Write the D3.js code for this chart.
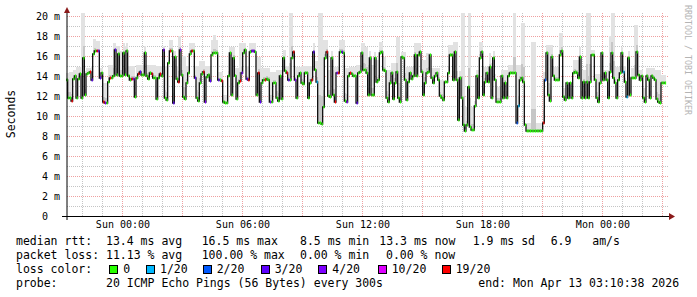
<!DOCTYPE html>
<html>
<head>
<meta charset="utf-8">
<script src="https://cdn.jsdelivr.net/npm/d3@7/dist/d3.min.js"></script>
<style>
body { margin: 0; background: #fff; }
svg text { font-family: "DejaVu Sans Mono", monospace; fill: #000; }
</style>
</head>
<body>
<svg id="chart" width="697" height="297"></svg>
<script>
// probe step and end of graph
const stepSeconds = 300;
const endTime = new Date(2026, 3, 13, 3, 10, 38);

// median rtt per 5 min step (ms)
const medianMs = [
  13.6, 11.8, 11.8, 11.5, 13.7, 14.0, 11.8, 13.7, 14.2, 11.8,
  15.8, 12.1, 14.2, 14.3, 14.4, 13.6, 16.2, 16.5, 16.5, 16.5,
  13.8, 14.3, 11.4, 11.3, 11.3, 13.4, 13.8, 13.8, 14.0, 16.6,
  14.1, 16.2, 14.0, 14.0, 16.3, 14.1, 16.5, 14.0, 13.6, 13.7,
  13.7, 11.9, 13.8, 14.2, 14.4, 14.1, 14.1, 16.3, 14.0, 13.7,
  14.3, 14.2, 13.8, 13.8, 11.7, 13.8, 14.2, 14.0, 16.6, 11.8,
  11.6, 15.3, 16.5, 16.5, 11.3, 15.9, 13.7, 13.4, 16.6, 14.1,
  11.9, 11.7, 13.3, 14.3, 16.2, 16.5, 16.5, 13.8, 11.8, 11.5,
  13.3, 14.2, 14.4, 11.4, 13.9, 14.1, 13.5, 16.1, 16.3, 16.3,
  16.3, 13.6, 13.6, 13.5, 11.4, 11.3, 11.3, 14.0, 16.3, 12.1,
  15.8, 14.0, 11.7, 13.3, 13.5, 14.3, 16.3, 16.6, 13.7, 13.6,
  16.4, 16.5, 16.5, 16.4, 12.1, 14.3, 11.4, 13.3, 13.6, 13.6,
  13.7, 13.6, 11.4, 11.4, 13.3, 13.3, 11.8, 11.5, 14.0, 11.7,
  15.8, 14.5, 14.3, 13.6, 13.6, 15.8, 16.4, 13.6, 11.8, 14.0,
  14.3, 13.3, 13.2, 14.3, 14.3, 11.8, 13.3, 13.6, 16.4, 14.6,
  13.4, 9.3, 9.3, 9.2, 10.9, 15.8, 16.4, 12.0, 11.9, 15.8,
  12.1, 11.4, 14.3, 14.3, 16.4, 16.4, 16.3, 11.5, 11.4, 14.0,
  14.3, 14.2, 14.0, 14.0, 11.3, 14.3, 14.4, 16.3, 14.6, 14.6,
  14.3, 12.1, 15.8, 12.1, 12.1, 15.8, 13.4, 13.6, 16.3, 16.4,
  14.6, 14.5, 11.8, 11.4, 13.3, 14.3, 11.7, 13.3, 14.4, 11.8,
  11.4, 15.9, 15.8, 13.6, 11.6, 13.4, 14.3, 13.7, 14.0, 16.1,
  14.0, 16.1, 16.4, 14.4, 12.1, 13.3, 14.3, 14.4, 16.1, 13.8,
  13.3, 14.0, 14.3, 13.6, 12.0, 11.8, 11.6, 13.4, 13.4, 14.3,
  16.1, 16.1, 13.6, 16.4, 13.6, 9.6, 13.8, 11.8, 9.1, 8.5,
  9.1, 12.9, 8.9, 8.6, 8.6, 11.0, 14.0, 11.8, 15.8, 16.4,
  12.1, 13.4, 14.3, 13.4, 14.9, 11.8, 15.8, 13.6, 11.4, 11.4,
  11.4, 14.0, 11.8, 13.3, 11.8, 14.0, 14.3, 14.3, 14.3, 14.3,
  9.3, 11.0, 13.6, 13.8, 13.4, 9.1, 8.5, 8.5, 8.5, 8.5,
  8.5, 8.5, 8.5, 8.5, 8.5, 8.5, 9.3, 13.6, 16.3, 12.1,
  11.5, 15.9, 14.0, 13.6, 13.6, 13.6, 16.1, 16.5, 11.9, 11.6,
  13.3, 11.8, 13.3, 11.8, 14.3, 14.4, 14.3, 13.8, 15.9, 11.8,
  13.4, 11.8, 13.4, 11.8, 13.4, 16.1, 16.1, 13.6, 11.8, 11.4,
  13.3, 16.3, 13.6, 14.3, 13.6, 11.8, 14.4, 16.3, 13.8, 13.3,
  11.8, 13.6, 14.3, 16.3, 14.4, 13.4, 11.9, 15.8, 12.1, 13.8,
  13.8, 13.8, 16.4, 14.1, 13.6, 14.0, 11.8, 11.4, 14.0, 13.6,
  11.8, 14.0, 13.8, 13.6, 11.7, 11.4, 11.3, 13.3, 13.3, 13.3
];

// top of the smoke (slowest ping) per step (ms)
const smokeTopMs = [
  14.3, 14.3, 14.4, 14.4, 14.6, 14.6, 14.9, 14.9, 14.9, 20.6,
  20.6, 14.5, 14.8, 14.8, 14.8, 15.0, 17.7, 17.7, 17.5, 17.5,
  14.8, 14.8, 13.3, 13.3, 13.3, 15.1, 15.1, 15.1, 17.3, 17.3,
  17.0, 17.0, 16.5, 16.5, 17.3, 17.0, 17.3, 15.0, 15.0, 15.0,
  15.0, 14.0, 15.1, 15.1, 15.1, 15.1, 15.1, 17.0, 15.1, 15.1,
  15.1, 15.1, 15.1, 15.1, 15.0, 15.0, 15.0, 15.0, 17.0, 15.0,
  15.0, 15.6, 17.6, 17.6, 15.5, 16.5, 15.0, 18.0, 18.0, 16.0,
  16.0, 16.0, 15.0, 15.0, 17.3, 17.3, 17.3, 15.0, 15.0, 15.0,
  15.5, 15.5, 15.5, 15.0, 15.0, 15.0, 15.0, 17.6, 18.1, 18.1,
  17.6, 14.4, 14.4, 14.4, 12.1, 12.1, 12.1, 14.5, 16.9, 16.9,
  16.9, 14.8, 14.8, 14.8, 17.3, 17.3, 17.3, 17.3, 15.0, 15.0,
  17.3, 17.3, 17.3, 17.3, 15.9, 15.9, 15.9, 14.8, 14.8, 14.8,
  14.8, 14.8, 14.4, 14.4, 14.4, 14.4, 14.6, 14.6, 14.6, 14.6,
  16.6, 16.6, 15.0, 15.0, 20.6, 20.6, 16.6, 14.9, 14.9, 14.9,
  14.9, 15.0, 15.0, 15.0, 15.0, 15.0, 15.0, 15.0, 17.3, 15.5,
  15.5, 20.6, 20.6, 20.6, 17.6, 17.6, 17.6, 14.6, 14.6, 16.5,
  14.6, 14.9, 14.9, 14.9, 17.6, 17.6, 17.6, 14.8, 14.8, 14.8,
  14.9, 14.9, 14.9, 14.9, 15.1, 15.1, 15.1, 17.3, 17.3, 16.9,
  16.9, 15.1, 16.5, 15.1, 15.1, 16.4, 15.6, 15.6, 17.4, 17.4,
  15.9, 15.9, 14.6, 14.6, 14.6, 15.3, 15.3, 15.3, 17.9, 17.9,
  12.9, 16.4, 16.4, 16.4, 14.9, 14.9, 14.9, 14.9, 14.9, 17.3,
  17.3, 17.3, 17.3, 15.6, 15.6, 15.6, 16.3, 16.3, 16.3, 14.8,
  14.8, 14.8, 14.8, 14.8, 13.6, 13.6, 13.6, 13.6, 13.6, 17.1,
  17.1, 17.1, 17.4, 17.4, 17.4, 12.0, 14.5, 20.6, 20.6, 10.9,
  10.9, 20.6, 20.6, 10.9, 10.9, 11.5, 14.6, 14.6, 17.4, 17.4,
  14.9, 14.9, 14.9, 14.9, 16.3, 15.3, 16.5, 14.2, 12.9, 12.9,
  12.9, 14.6, 14.6, 14.6, 14.6, 15.1, 15.1, 15.1, 20.6, 20.6,
  15.1, 15.1, 15.1, 19.3, 19.3, 9.3, 9.3, 9.3, 9.3, 17.4,
  17.4, 17.4, 9.3, 9.3, 9.3, 9.3, 14.4, 14.4, 17.1, 17.1,
  17.1, 17.1, 14.9, 14.9, 14.9, 14.9, 18.3, 18.3, 12.8, 12.8,
  12.8, 12.8, 12.8, 12.8, 15.6, 15.6, 15.6, 15.6, 16.9, 14.6,
  14.6, 14.6, 20.6, 20.6, 20.6, 16.6, 16.6, 14.2, 14.2, 14.2,
  14.2, 15.9, 14.6, 14.6, 14.6, 14.6, 18.0, 20.6, 20.6, 14.9,
  14.9, 14.9, 14.9, 16.9, 15.0, 15.0, 13.0, 16.5, 14.0, 14.8,
  14.8, 19.1, 19.1, 14.6, 14.6, 14.6, 12.8, 12.8, 14.8, 14.8,
  14.8, 14.8, 14.8, 14.6, 14.6, 14.6, 14.6, 14.1, 14.1, 14.1
];

// steps with packet loss: [step index, lost pings of 20]
const lossSteps = [
  [3,19],[14,19],[15,3],[18,19],[19,4],[20,3],[22,19],[23,4],[26,19],[29,3],
  [39,19],[40,4],[43,19],[44,3],[51,19],[56,19],[58,4],[62,19],[64,3],[67,19],
  [68,4],[75,19],[77,3],[82,19],[83,4],[86,3],[91,3],[93,19],[104,19],[105,4],
  [108,3],[109,19],[111,4],[112,4],[115,19],[116,3],[119,19],[122,4],[132,19],[133,3],
  [136,19],[137,4],[147,19],[148,3],[150,1],[156,19],[161,19],[162,4],[163,19],[165,3],
  [168,4],[170,19],[174,3],[270,2],[271,1],[286,19],[287,2],[334,1],[336,1]
];

const lossColors = { 0: "#26ff00", 1: "#00b8ff", 2: "#0059ff", 3: "#5e00ff", 4: "#7e00ff", 10: "#dd00ff", 19: "#ff0000" };
const lossLegendLabels = ["0", "1/20", "2/20", "3/20", "4/20", "10/20", "19/20"];
const lossLegendKeys = [0, 1, 2, 3, 4, 10, 19];

const yTickValues = [0, 2, 4, 6, 8, 10, 12, 14, 16, 18, 20];
const xLabelHours = [new Date(2026, 3, 12, 0), new Date(2026, 3, 12, 6), new Date(2026, 3, 12, 12),
                     new Date(2026, 3, 12, 18), new Date(2026, 3, 13, 0)];

const statsRtt = ["median rtt:  13.4 ms avg", "16.5 ms max", "8.5 ms min", "13.3 ms now", "1.9 ms sd", "6.9   am/s"];
const statsLoss = ["packet loss: 11.13 % avg", "100.00 % max", "0.00 % min", "0.00 % now"];
const probeText = "probe:       20 ICMP Echo Pings (56 Bytes) every 300s";
const endText = "end: Mon Apr 13 03:10:38 2026";

drawChart();

// svg collapses runs of spaces, keep them with no-break spaces
function keepSpaces(s) {
    return s.replace(/ /g, "\u00a0");
}

function drawChart() {
    const svg = d3.select("#chart");
    const n = medianMs.length;
    const startTime = new Date(endTime.getTime() - n * stepSeconds * 1000);
    const stepTime = i => new Date(startTime.getTime() + i * stepSeconds * 1000);

    const x = d3.scaleTime().domain([startTime, endTime]).range([66, 666]);
    const y = d3.scaleLinear().domain([0, 20]).range([216, 16]);
    const plotTop = 13, plotRight = 668;

    // grid: hours (minor), every 3h (major)
    const hours = d3.timeHour.range(d3.timeHour.ceil(startTime), endTime);
    svg.append("g").selectAll("line")
        .data(hours)
        .enter().append("line")
        .attr("x1", d => Math.round(x(d)) + 0.5)
        .attr("x2", d => Math.round(x(d)) + 0.5)
        .attr("y1", plotTop)
        .attr("y2", 216)
        .attr("stroke", d => d.getHours() % 3 === 0 ? "#eea0a0" : "#c4c4c4")
        .attr("stroke-dasharray", "1,1");

    const msLines = d3.range(1, 21);
    svg.append("g").selectAll("line")
        .data(msLines)
        .enter().append("line")
        .attr("x1", 67)
        .attr("x2", plotRight)
        .attr("y1", d => Math.round(y(d)) + 0.5)
        .attr("y2", d => Math.round(y(d)) + 0.5)
        .attr("stroke", d => d % 2 === 0 ? "#eea0a0" : "#c4c4c4")
        .attr("stroke-dasharray", "1,1");

    const steps = medianMs.map((m, i) => ({ i: i, t0: stepTime(i), t1: stepTime(i + 1), med: m, top: smokeTopMs[i] }));
    const lossByStep = new Map(lossSteps);

    // smoke
    const smoke = svg.append("g").attr("shape-rendering", "crispEdges");
    smoke.selectAll("rect.light")
        .data(steps)
        .enter().append("rect")
        .attr("class", "light")
        .attr("x", d => x(d.t0))
        .attr("width", d => x(d.t1) - x(d.t0) + 0.4)
        .attr("y", d => Math.max(plotTop, y(d.top)))
        .attr("height", d => y(d.med) - Math.max(plotTop, y(d.top)))
        .attr("fill", "#e2e2e2");
    smoke.selectAll("rect.dark")
        .data(steps)
        .enter().append("rect")
        .attr("class", "dark")
        .attr("x", d => x(d.t0))
        .attr("width", d => x(d.t1) - x(d.t0) + 0.4)
        .attr("y", d => y(d.med + (d.top - d.med) * 0.25))
        .attr("height", d => y(d.med) - y(d.med + (d.top - d.med) * 0.25))
        .attr("fill", "#c6c6c6");

    // median line
    const pts = steps.map(d => [x(d.t0), y(d.med)]);
    pts.push([x(endTime), y(medianMs[n - 1])]);
    svg.append("path")
        .attr("d", d3.line().curve(d3.curveStepAfter)(pts))
        .attr("fill", "none")
        .attr("stroke", "#111")
        .attr("stroke-width", 1.3);

    // loss colour marks, narrower than a step so the black verticals stay visible
    svg.append("g")
        .selectAll("rect")
        .data(steps)
        .enter().append("rect")
        .attr("x", d => x(d.t0) + 0.6)
        .attr("width", d => x(d.t1) - x(d.t0) - 0.5)
        .attr("y", d => y(d.med) - 1.5)
        .attr("height", 3)
        .attr("fill", d => lossColors[lossByStep.get(d.i) || 0]);

    // axes
    svg.append("line")
        .attr("x1", 62).attr("x2", 670)
        .attr("y1", 216.5).attr("y2", 216.5)
        .attr("stroke", "#000");
    svg.append("line")
        .attr("x1", 67).attr("x2", 67)
        .attr("y1", 220).attr("y2", 11)
        .attr("stroke", "#000");
    svg.append("path")
        .attr("d", "M669,213 L675,216.5 L669,220 Z")
        .attr("fill", "#8b1a1a");
    svg.append("path")
        .attr("d", "M64,13 L67,7 L70,13 Z")
        .attr("fill", "#8b1a1a");

    // y labels
    const yl = svg.append("g").style("font-size", "10px");
    yl.selectAll("text.num")
        .data(yTickValues)
        .enter().append("text")
        .attr("class", "num")
        .attr("x", 48)
        .attr("y", d => y(d) + 4)
        .attr("text-anchor", "end")
        .text(d => d);
    yl.selectAll("text.unit")
        .data(yTickValues.filter(d => d > 0))
        .enter().append("text")
        .attr("class", "unit")
        .attr("x", 54)
        .attr("y", d => y(d) + 4)
        .text("m");

    // x labels
    const fmt = d3.timeFormat("%a %H:%M");
    svg.append("g").style("font-size", "10px")
        .selectAll("text")
        .data(xLabelHours)
        .enter().append("text")
        .attr("x", d => x(d) + 0.5)
        .attr("y", 228)
        .attr("text-anchor", "middle")
        .text(d => fmt(d));

    svg.append("text")
        .attr("transform", "translate(15,114) rotate(-90)")
        .attr("text-anchor", "middle")
        .style("font-size", "11.5px")
        .text("Seconds");

    svg.append("text")
        .attr("transform", "translate(685,5) rotate(90)")
        .style("font-size", "8.3px")
        .style("fill", "#b4b4b4")
        .text("RRDTOOL / TOBI OETIKER");

    // legend
    const lg = svg.append("g").style("font-size", "11.5px");
    const rttX = [16, 201.7, 300, 379.3, 472.7, 550.7];
    const lossX = [16, 201.7, 300, 386];
    statsRtt.forEach((s, i) => lg.append("text").attr("x", rttX[i]).attr("y", 245).text(keepSpaces(s)));
    statsLoss.forEach((s, i) => lg.append("text").attr("x", lossX[i]).attr("y", 259).text(keepSpaces(s)));

    lg.append("text").attr("x", 16).attr("y", 273).text("loss color:");
    const boxX = [109.3, 146, 202.7, 260.7, 318.3, 377.7, 441.7];
    lossLegendKeys.forEach((k, i) => {
        lg.append("rect")
            .attr("x", Math.round(boxX[i]) + 0.5)
            .attr("y", 265.5)
            .attr("width", 8)
            .attr("height", 8)
            .attr("fill", lossColors[k])
            .attr("stroke", "#000");
        lg.append("text").attr("x", boxX[i] + 14).attr("y", 273).text(lossLegendLabels[i]);
    });

    lg.append("text").attr("x", 16).attr("y", 287).text(keepSpaces(probeText));
    lg.append("text").attr("x", 478.3).attr("y", 287).text(keepSpaces(endText));
}
</script>
</body>
</html>
